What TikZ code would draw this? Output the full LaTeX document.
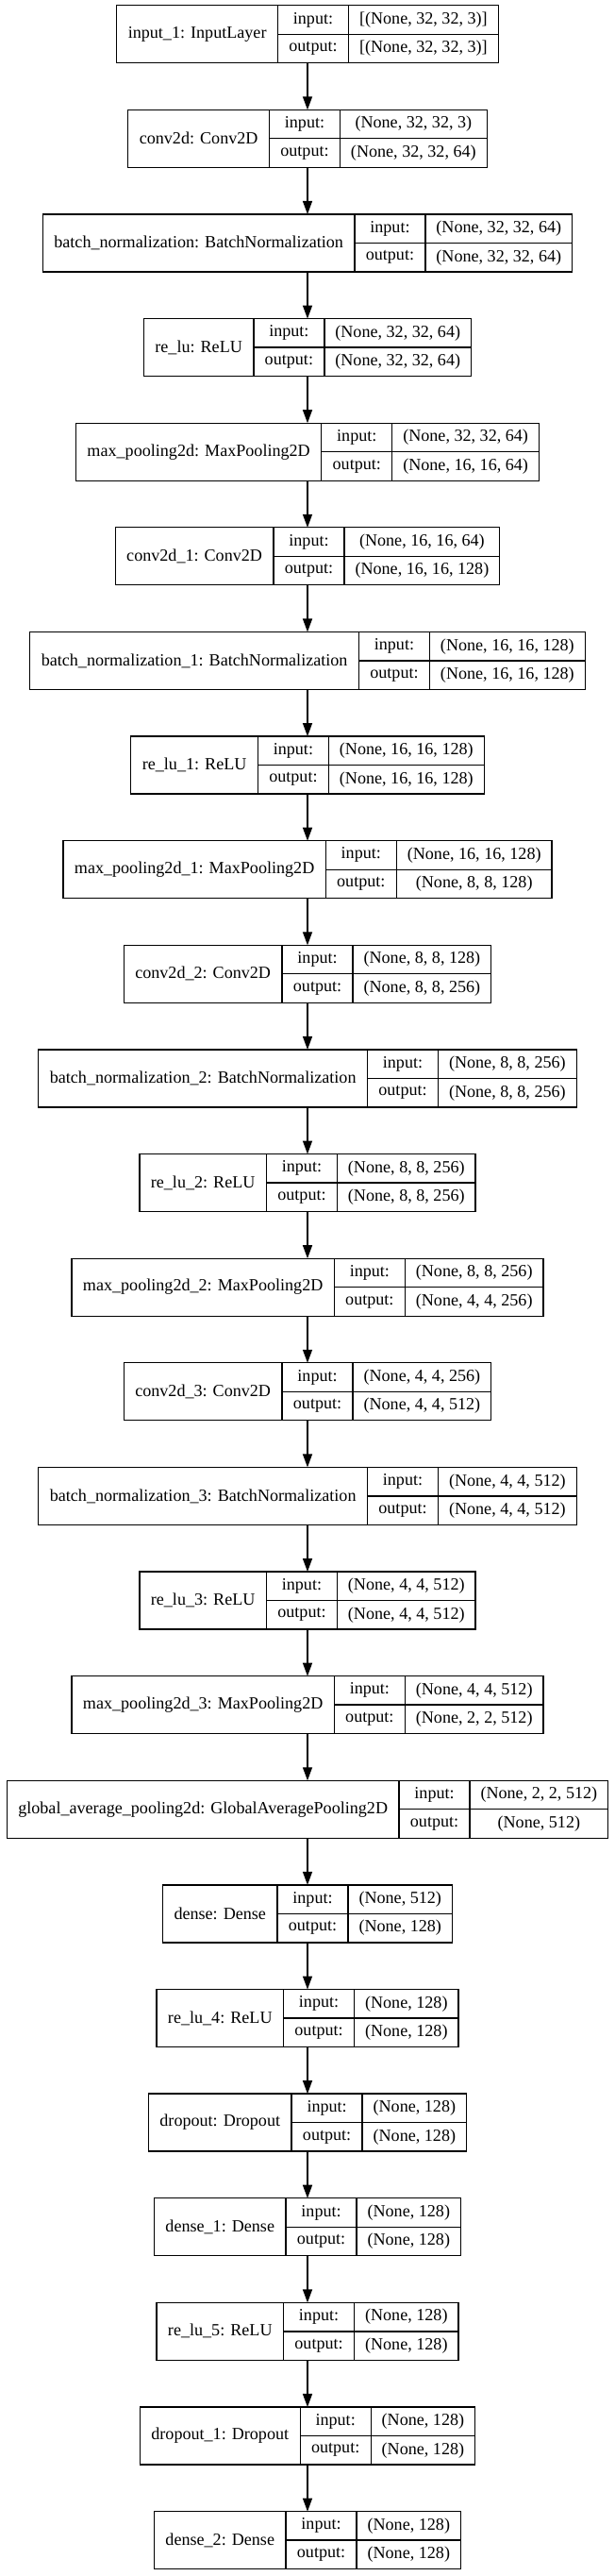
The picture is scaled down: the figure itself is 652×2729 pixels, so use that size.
\documentclass[tikz,border=0pt]{standalone}
\usepackage{fontspec}
\setmainfont{Liberation Serif}
\usetikzlibrary{arrows.meta}
\newcommand{\tf}{\fontsize{18.1pt}{21pt}\selectfont}
\newlength{\lwA}\newlength{\lwC}\newlength{\lwD}
\newlength{\padl}\setlength{\padl}{24pt}
\newlength{\padv}\setlength{\padv}{23pt}
\newlength{\iow}\setlength{\iow}{75pt}
\tikzset{
  cellbox/.style={draw=black, line width=1.3pt, inner sep=0pt, outer sep=0pt, anchor=north west, font=\tf},
  labcell/.style={cellbox, minimum height=61pt},
  rowcell/.style={cellbox, minimum height=30.5pt},
  recframe/.style={inner sep=0pt, outer sep=0pt, minimum height=61pt},
  arr/.style={draw=black, line width=1.3pt, -{Triangle[length=14pt,width=10pt]}}
}
\newcommand{\measure}[3]{%
  \pgfinterruptpicture
    \settowidth{\lwA}{\normalfont\tf #1}\global\lwA=\lwA
    \settowidth{\lwC}{\normalfont\tf #2}\settowidth{\lwD}{\normalfont\tf #3}%
    \ifdim\lwD>\lwC \lwC=\lwD\fi
    \global\lwC=\lwC
  \endpgfinterruptpicture
}
\newcommand{\layer}[5]{%
  \pgfmathsetmacro{\ytop}{5.7+#2*110.62}%
  \pgfmathsetmacro{\ymid}{\ytop+30.5}%
  \measure{#3}{#4}{#5}%
  \global\advance\lwA by \padl
  \global\advance\lwC by \padv
  \pgfmathsetmacro{\xl}{326-(\lwA+\iow+\lwC)/2}%
  \pgfmathsetlengthmacro{\recw}{\lwA+\iow+\lwC}%
  \node[recframe, minimum width=\recw] (#1) at (326,\ymid) {};
  \node[labcell, minimum width=\lwA] (#1l) at (\xl,\ytop) {#3};
  \node[rowcell, minimum width=\iow] (#1i) at (#1l.north east) {input:};
  \node[rowcell, minimum width=\iow] (#1o) at (#1i.south west) {output:};
  \node[rowcell, minimum width=\lwC] (#1vi) at (#1i.north east) {#4};
  \node[rowcell, minimum width=\lwC] (#1vo) at (#1vi.south west) {#5};
}
\begin{document}
\begin{tikzpicture}[x=1pt,y=-1pt]
\useasboundingbox[fill=white] (0,0) rectangle (652,2729);
\layer{L0}{0}{input\_1: InputLayer}{[(None, 32, 32, 3)]}{[(None, 32, 32, 3)]}
\layer{L1}{1}{conv2d: Conv2D}{(None, 32, 32, 3)}{(None, 32, 32, 64)}
\layer{L2}{2}{batch\_normalization: BatchNormalization}{(None, 32, 32, 64)}{(None, 32, 32, 64)}
\layer{L3}{3}{re\_lu: ReLU}{(None, 32, 32, 64)}{(None, 32, 32, 64)}
\layer{L4}{4}{max\_pooling2d: MaxPooling2D}{(None, 32, 32, 64)}{(None, 16, 16, 64)}
\layer{L5}{5}{conv2d\_1: Conv2D}{(None, 16, 16, 64)}{(None, 16, 16, 128)}
\layer{L6}{6}{batch\_normalization\_1: BatchNormalization}{(None, 16, 16, 128)}{(None, 16, 16, 128)}
\layer{L7}{7}{re\_lu\_1: ReLU}{(None, 16, 16, 128)}{(None, 16, 16, 128)}
\layer{L8}{8}{max\_pooling2d\_1: MaxPooling2D}{(None, 16, 16, 128)}{(None, 8, 8, 128)}
\layer{L9}{9}{conv2d\_2: Conv2D}{(None, 8, 8, 128)}{(None, 8, 8, 256)}
\layer{L10}{10}{batch\_normalization\_2: BatchNormalization}{(None, 8, 8, 256)}{(None, 8, 8, 256)}
\layer{L11}{11}{re\_lu\_2: ReLU}{(None, 8, 8, 256)}{(None, 8, 8, 256)}
\layer{L12}{12}{max\_pooling2d\_2: MaxPooling2D}{(None, 8, 8, 256)}{(None, 4, 4, 256)}
\layer{L13}{13}{conv2d\_3: Conv2D}{(None, 4, 4, 256)}{(None, 4, 4, 512)}
\layer{L14}{14}{batch\_normalization\_3: BatchNormalization}{(None, 4, 4, 512)}{(None, 4, 4, 512)}
\layer{L15}{15}{re\_lu\_3: ReLU}{(None, 4, 4, 512)}{(None, 4, 4, 512)}
\layer{L16}{16}{max\_pooling2d\_3: MaxPooling2D}{(None, 4, 4, 512)}{(None, 2, 2, 512)}
\layer{L17}{17}{global\_average\_pooling2d: GlobalAveragePooling2D}{(None, 2, 2, 512)}{(None, 512)}
\layer{L18}{18}{dense: Dense}{(None, 512)}{(None, 128)}
\layer{L19}{19}{re\_lu\_4: ReLU}{(None, 128)}{(None, 128)}
\layer{L20}{20}{dropout: Dropout}{(None, 128)}{(None, 128)}
\layer{L21}{21}{dense\_1: Dense}{(None, 128)}{(None, 128)}
\layer{L22}{22}{re\_lu\_5: ReLU}{(None, 128)}{(None, 128)}
\layer{L23}{23}{dropout\_1: Dropout}{(None, 128)}{(None, 128)}
\layer{L24}{24}{dense\_2: Dense}{(None, 128)}{(None, 128)}
\foreach \a/\b in {0/1,1/2,2/3,3/4,4/5,5/6,6/7,7/8,8/9,9/10,10/11,11/12,12/13,13/14,14/15,15/16,16/17,17/18,18/19,19/20,20/21,21/22,22/23,23/24}
  \draw[arr] (L\a) -- (L\b);
\end{tikzpicture}
\end{document}
